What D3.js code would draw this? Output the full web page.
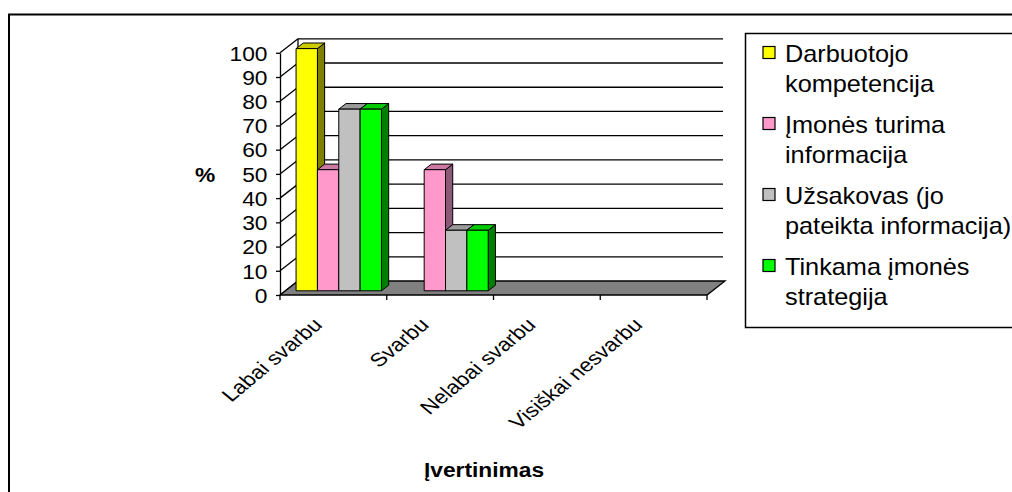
<!DOCTYPE html>
<html>
<head>
<meta charset="utf-8">
<script src="https://cdn.jsdelivr.net/npm/d3@7"></script>
<style>
  html, body { margin: 0; padding: 0; background: #fff; }
  svg { display: block; }
  text { font-family: "Liberation Sans", Arial, sans-serif; font-size: 20.7px; fill: #000; }
  .legend text { font-size: 23px; }
  .cat-labels text { font-size: 19px; }
</style>
</head>
<body>
<svg id="chart" width="1012" height="492"></svg>
<script>
// Rating categories along the floor
const categories = ["Labai svarbu", "Svarbu", "Nelabai svarbu", "Visiškai nesvarbu"];

// Series (legend entries, each split over two lines)
const seriesNames = [
  ["Darbuotojo", "kompetencija"],
  ["Įmonės turima", "informacija"],
  ["Užsakovas (jo", "pateikta informacija)"],
  ["Tinkama įmonės", "strategija"]
];

// Percent per category for each series
const darbuotojoKompetencija = [100, 0, 0, 0];
const imonesInformacija      = [50, 50, 0, 0];
const uzsakovoInformacija    = [75, 25, 0, 0];
const imonesStrategija       = [75, 25, 0, 0];
const seriesValues = [darbuotojoKompetencija, imonesInformacija, uzsakovoInformacija, imonesStrategija];

const yTicks = [0, 10, 20, 30, 40, 50, 60, 70, 80, 90, 100];
const yTitle = "%";
const xTitle = "Įvertinimas";

// Face colours: front, top, side
const frontColors = ["#FFFF00", "#FF99CC", "#C0C0C0", "#00FF00"];
const topColors   = ["#CCCC00", "#CC7AA3", "#9A9A9A", "#00CC00"];
const sideColors  = ["#808000", "#8C5A78", "#6E6E6E", "#008000"];

const svg = d3.select("#chart");
const SX = 1.1;               // horizontal text stretch
const depth = [18, -14];      // back-wall offset of the 3D box
const barFront = 0.3, barBack = 0.7;  // bar position within the depth

// Chart area frame
svg.append("rect").attr("x", 9).attr("y", 14.5).attr("width", 1200).attr("height", 700)
  .attr("fill", "#fff").attr("stroke", "#000").attr("stroke-width", 2);

const x = d3.scaleBand().domain(categories).range([280, 707]);
const y = d3.scaleLinear().domain([0, 100]).range([295, 52.8]);
const xs = d3.scaleBand().domain(d3.range(seriesNames.length))
  .range([0, x.bandwidth()]).paddingInner(0).paddingOuter(0.5);

const [x0, x1] = x.range();
const line = d3.line();

// Back wall grid lines
const grid = svg.append("g").attr("stroke", "#000").attr("stroke-width", 1.3).attr("fill", "none");
yTicks.filter(v => v > 0).forEach(v => {
  grid.append("line")
    .attr("x1", x0 + depth[0]).attr("x2", x1 + depth[0] - 2)
    .attr("y1", y(v) + depth[1]).attr("y2", y(v) + depth[1]);
});
// Side wall diagonals and back edge
yTicks.forEach(v => {
  grid.append("line")
    .attr("x1", x0).attr("y1", y(v))
    .attr("x2", x0 + depth[0]).attr("y2", y(v) + depth[1]);
});
grid.append("line")
  .attr("x1", x0 + depth[0]).attr("x2", x0 + depth[0])
  .attr("y1", y(100) + depth[1]).attr("y2", y(0) + depth[1]);

// Floor
svg.append("path")
  .attr("d", line([[x0, y(0)], [x1, y(0)], [x1 + depth[0], y(0) + depth[1]], [x0 + depth[0], y(0) + depth[1]]]) + "Z")
  .attr("fill", "#808080").attr("stroke", "#000").attr("stroke-width", 1.3);

// Bars, drawn left to right so each front face hides the previous side face
const bars = svg.append("g").attr("stroke", "#000").attr("stroke-width", 1).attr("stroke-linejoin", "round");
categories.forEach((c, ci) => {
  seriesValues.forEach((vals, si) => {
    const v = vals[ci];
    if (!(v > 0)) return;
    const fx = x(c) + xs(si) + depth[0] * barFront;
    const fdy = depth[1] * barFront;
    const bw = xs.bandwidth();
    const ddx = depth[0] * (barBack - barFront), ddy = depth[1] * (barBack - barFront);
    const yb = y(0) + fdy, yt = y(v) + fdy;
    // side
    bars.append("path")
      .attr("d", line([[fx + bw, yb], [fx + bw + ddx, yb + ddy], [fx + bw + ddx, yt + ddy], [fx + bw, yt]]) + "Z")
      .attr("fill", sideColors[si]);
    // top
    bars.append("path")
      .attr("d", line([[fx, yt], [fx + bw, yt], [fx + bw + ddx, yt + ddy], [fx + ddx, yt + ddy]]) + "Z")
      .attr("fill", topColors[si]);
    // front
    bars.append("rect")
      .attr("x", fx).attr("y", yt).attr("width", bw).attr("height", yb - yt)
      .attr("fill", frontColors[si]);
  });
});

// Value axis
const yAxis = svg.append("g").attr("transform", `translate(${x0},0)`)
  .call(d3.axisLeft(y).tickValues(yTicks).tickSize(4).tickSizeOuter(0).tickPadding(8.5));
yAxis.select(".domain").attr("stroke", "#000").attr("stroke-width", 1.3);
yAxis.selectAll(".tick line").attr("stroke", "#000").attr("stroke-width", 1.3);
yAxis.selectAll(".tick text")
  .attr("font-family", null).attr("font-size", null)
  .attr("x", null).attr("dy", null)
  .attr("transform", `translate(-12.5,7.3) scale(${SX},1)`)
  .attr("text-anchor", "end");

// Category ticks along the floor front edge
const catEdges = categories.map(c => x(c)).concat([x1]);
svg.append("g").selectAll("line").data(catEdges).join("line")
  .attr("x1", d => d).attr("x2", d => d)
  .attr("y1", y(0)).attr("y2", y(0) + 5)
  .attr("stroke", "#000").attr("stroke-width", 1.3);

// Category labels
svg.append("g").attr("class", "cat-labels").selectAll("text").data(categories).join("text")
  .attr("text-anchor", "end")
  .attr("transform", d => `translate(${x(d) + x.bandwidth() / 2 - 10},326) scale(1.2,1) rotate(-45)`)
  .text(d => d);

// Axis titles
svg.append("text").attr("text-anchor", "middle").attr("font-weight", "bold")
  .attr("transform", `translate(205,182) scale(${SX},1)`).text(yTitle);
svg.append("text").attr("text-anchor", "middle").attr("font-weight", "bold")
  .attr("transform", `translate(484,477) scale(${SX},1)`).text(xTitle);

// Legend
const legend = svg.append("g").attr("class", "legend");
legend.append("rect").attr("x", 745.5).attr("y", 33.5).attr("width", 400).attr("height", 294)
  .attr("fill", "#fff").attr("stroke", "#000").attr("stroke-width", 1.5);
seriesNames.forEach((lines, i) => {
  const b = 62 + i * 71;
  legend.append("rect").attr("x", 763).attr("y", b - 15.5).attr("width", 12).attr("height", 12)
    .attr("fill", frontColors[i]).attr("stroke", "#000").attr("stroke-width", 1.2);
  lines.forEach((t, li) => {
    legend.append("text")
      .attr("transform", `translate(785,${b + li * 29.7}) scale(${SX},1)`)
      .text(t);
  });
});
</script>
</body>
</html>
